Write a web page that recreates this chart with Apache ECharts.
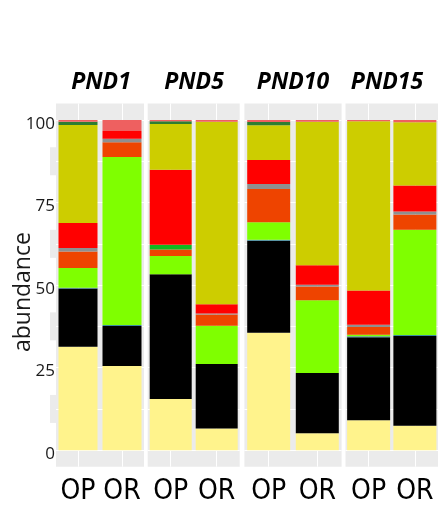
<!DOCTYPE html>
<html>
<head>
<meta charset="utf-8">
<script src="https://cdn.jsdelivr.net/npm/echarts@6/dist/echarts.min.js"></script>
<style>
  html, body { margin: 0; padding: 0; background: #ffffff; }
  #chart { width: 438px; height: 507px; }
</style>
</head>
<body>
<div id="chart"></div>
<script>
// Sampling days (facets) and the two groups inside each facet
const periods = ['PND1', 'PND5', 'PND10', 'PND15'];
const groups = ['OP', 'OR'];

// Relative abundance (%) of each taxon, one value per bar:
// PND1 OP, PND1 OR, PND5 OP, PND5 OR, PND10 OP, PND10 OR, PND15 OP, PND15 OR
const taxonKhaki      = [31.3, 25.5, 15.5,  6.6, 35.6,  5.1,  9.1,  7.4];
const taxonBlack      = [17.7, 12.1, 37.8, 19.5, 27.8, 18.3, 25.1, 27.2];
const taxonSteel      = [ 0.2,  0.3,  0.0,  0.0,  0.3,  0.0,  0.3,  0.3];
const taxonChartreuse = [ 6.0, 50.9,  5.5, 11.6,  5.3, 22.0,  0.5, 31.9];
const taxonOrangeRed  = [ 5.0,  4.5,  2.0,  3.4, 10.1,  4.2,  2.3,  4.6];
const taxonGray       = [ 1.0,  1.0,  0.0,  0.3,  1.5,  0.5,  0.7,  0.9];
const taxonGreen      = [ 0.0,  0.0,  1.4,  0.0,  0.0,  0.0,  0.0,  0.0];
const taxonRed        = [ 7.6,  2.4, 22.7,  2.8,  7.3,  5.9, 10.4,  7.9];
const taxonOlive      = [29.7,  0.0, 13.9, 55.3, 10.5, 43.5, 51.2, 19.1];
const taxonSeaGreen   = [ 1.0,  0.0,  0.8,  0.0,  1.0,  0.0,  0.0,  0.0];
const taxonIndianRed  = [ 0.5,  3.3,  0.4,  0.5,  0.6,  0.5,  0.4,  0.7];

const yTickLabels = [0, 25, 50, 75, 100];
const yGridValues = [0, 12.5, 25, 37.5, 50, 62.5, 75, 87.5, 100];

// Stack order, bottom to top
const layers = [
  { name: 'khaki',      values: taxonKhaki,      color: '#FFF38C' },
  { name: 'black',      values: taxonBlack,      color: '#000000' },
  { name: 'steel',      values: taxonSteel,      color: '#3C8CA0' },
  { name: 'chartreuse', values: taxonChartreuse, color: '#7FFF00' },
  { name: 'orangered',  values: taxonOrangeRed,  color: '#EE4400' },
  { name: 'gray',       values: taxonGray,       color: '#8F8F8F' },
  { name: 'green',      values: taxonGreen,      color: '#10B820' },
  { name: 'red',        values: taxonRed,        color: '#FF0000' },
  { name: 'olive',      values: taxonOlive,      color: '#CDCD00' },
  { name: 'seagreen',   values: taxonSeaGreen,   color: '#2E7D32' },
  { name: 'indianred',  values: taxonIndianRed,  color: '#EE6060' }
];

// Facet panel geometry
const panelTop = 103.5;
const panelHeight = 363.2;
const panels = [
  { left: 56,    width: 88,   bar: 39 },
  { left: 147.7, width: 92,   bar: 42 },
  { left: 244.4, width: 97.2, bar: 43 },
  { left: 345.5, width: 96.6, bar: 43 }
];
const stripCenters = [96, 189, 288, 382];

const panelGray = '#EBEBEB';
const textFont = "'Open Sans', 'Liberation Sans', sans-serif";

const grids = [], xAxes = [], yAxes = [], series = [], titles = [];

panels.forEach((p, i) => {
  grids.push({
    left: p.left, top: panelTop, width: p.width, height: panelHeight,
    show: true, backgroundColor: panelGray, borderWidth: 0
  });
  xAxes.push({
    type: 'category', gridIndex: i, data: groups,
    axisLine: { show: false },
    axisTick: { show: true, alignWithLabel: true, length: 3, lineStyle: { color: '#666', width: 1 } },
    axisLabel: {
      color: '#000', fontSize: 28, margin: 11, interval: 0, hideOverlap: false,
      fontFamily: "'Liberation Sans Narrow', 'DejaVu Sans Condensed', 'Roboto', sans-serif"
    },
    splitLine: { show: false }
  });
  yAxes.push({
    type: 'value', gridIndex: i, min: -5, max: 105,
    axisLine: { show: false },
    axisTick: { show: false, customValues: yGridValues },
    axisLabel: {
      show: i === 0, customValues: yTickLabels, color: '#1a1a1a',
      fontSize: 17, margin: 1, verticalAlign: 'top', lineHeight: 8, fontFamily: textFont
    },
    splitLine: { show: true, lineStyle: { color: '#ffffff', width: 1 } },
    name: i === 0 ? 'abundance' : '',
    nameLocation: 'middle', nameGap: 21, nameMoveOverlap: false,
    nameTextStyle: { fontSize: 23, color: '#1a1a1a', fontFamily: textFont, padding: [0, 14, 0, 0] }
  });
  // vertical white grid lines through the category centres, kept under the bars
  series.push({
    type: 'line', xAxisIndex: i, yAxisIndex: i, data: [], z: 1, silent: true,
    markLine: {
      z: 1, silent: true, symbol: 'none', label: { show: false },
      lineStyle: { color: '#ffffff', width: 1, type: 'solid' },
      data: groups.map(g => ({ xAxis: g }))
    }
  });
  layers.forEach(layer => {
    series.push({
      type: 'bar', name: layer.name, stack: 'panel' + i,
      xAxisIndex: i, yAxisIndex: i, barWidth: p.bar, z: 3,
      itemStyle: { color: layer.color },
      data: [layer.values[2 * i], layer.values[2 * i + 1]]
    });
  });
  titles.push({
    text: periods[i], left: stripCenters[i], top: 66, textAlign: 'center',
    textStyle: { fontSize: 23, fontWeight: 'bold', fontStyle: 'italic', color: '#000', fontFamily: textFont }
  });
});

const chart = echarts.init(document.getElementById('chart'), null, { renderer: 'canvas' });
chart.setOption({
  animation: false,
  backgroundColor: '#ffffff',
  title: titles,
  grid: grids,
  xAxis: xAxes,
  yAxis: yAxes,
  series: series
});

// light panel blocks peeking out left of the first facet, between the tick labels
const blockValues = [87.5, 62.5, 37.5, 12.5];
chart.setOption({
  graphic: blockValues.map(v => {
    const yc = chart.convertToPixel({ yAxisIndex: 0 }, v);
    return {
      type: 'rect', z: 0, silent: true,
      shape: { x: 50, y: yc - 14, width: panels[0].left - 50, height: 28 },
      style: { fill: panelGray }
    };
  })
});
</script>
</body>
</html>
